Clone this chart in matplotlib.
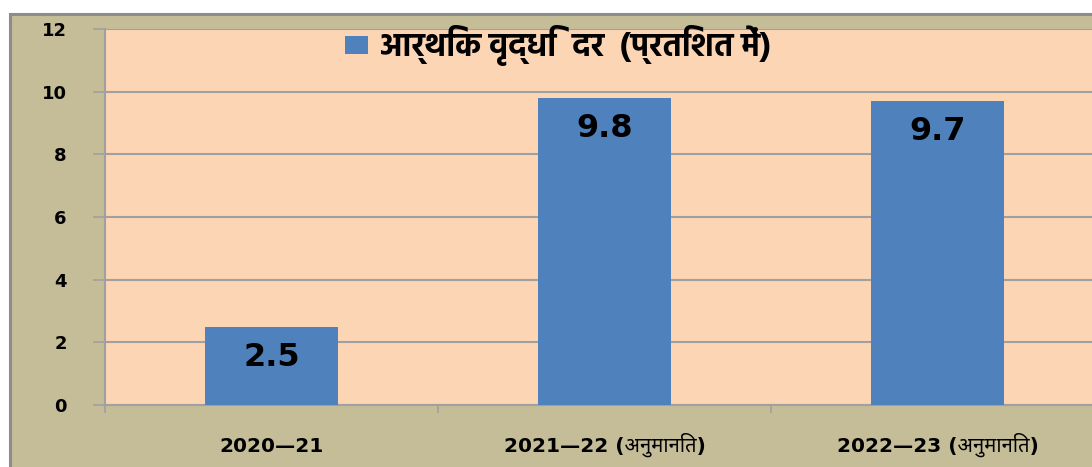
import matplotlib
matplotlib.use("Agg")
import matplotlib.pyplot as plt
from matplotlib.patches import Rectangle, Patch

# data
years = ["2020—21", "2021—22 (अनुमानित)", "2022—23 (अनुमानित)"]
growth = [2.5, 9.8, 9.7]
series_name = "आर्थिक वृद्धि  दर  (प्रतिशत में)"
yticks = [0, 2, 4, 6, 8, 10, 12]

bar_color = "#4f81bd"
plot_bg = "#fcd5b5"
outer_bg = "#c4bd97"
grid_col = "#a0a0a0"

W, H = 1092, 467
fig = plt.figure(figsize=(W / 100, H / 100), dpi=100, facecolor="white")

# outer chart area with grey border
fig.patches.append(Rectangle((10 / W, -0.05), 1.1, (H - 14) / H + 0.05,
                             transform=fig.transFigure, facecolor=outer_bg,
                             edgecolor="#8c8c8c", linewidth=2.2, zorder=-10))

ax = fig.add_axes([105 / W, 62 / H, 999 / W, 376 / H])
ax.set_facecolor(plot_bg)

x = list(range(len(years)))
bars = ax.bar(x, growth, width=0.4, color=bar_color, zorder=3, label=series_name)

for xi, v in zip(x, growth):
    ax.annotate(f"{v}", (xi, v), xytext=(0, -22), textcoords="offset points",
                ha="center", va="center", fontsize=23, fontweight="bold",
                family="DejaVu Sans", color="black", zorder=4)

ax.set_xlim(-0.5, 2.5)
ax.set_ylim(0, 12)
ax.set_yticks(yticks)
ax.set_yticklabels([str(t) for t in yticks], fontsize=13, fontweight="bold", family="DejaVu Sans")
ax.set_xticks(x)
ax.set_xticklabels(years, fontsize=14.5, fontweight="bold",
                   family=["DejaVu Sans", "Noto Sans Devanagari"])
for lbl in ax.get_xticklabels():
    lbl.set_verticalalignment("baseline")
ax.set_xticks([-0.5, 0.5, 1.5, 2.5], minor=True)

ax.grid(axis="y", color=grid_col, linewidth=1.5, zorder=1)
ax.tick_params(axis="y", length=9, width=1.2, color=grid_col, pad=18.5)
ax.tick_params(axis="x", which="major", length=0, pad=33.5)
ax.tick_params(axis="x", which="minor", length=6, width=1.2, color=grid_col)

for s in ["top", "right"]:
    ax.spines[s].set_visible(False)
for s in ["left", "bottom"]:
    ax.spines[s].set_color(grid_col)
    ax.spines[s].set_linewidth(1.5)

leg = ax.legend(handles=[Patch(facecolor=bar_color, label=series_name)],
                loc="center", bbox_to_anchor=(0.4535, 0.955), frameon=False,
                prop={"family": ["Hind", "DejaVu Sans"], "weight": "bold", "size": 23},
                handlelength=0.7, handleheight=0.45, handletextpad=0.4)

fig.savefig("out.png", dpi=100, facecolor="white")
